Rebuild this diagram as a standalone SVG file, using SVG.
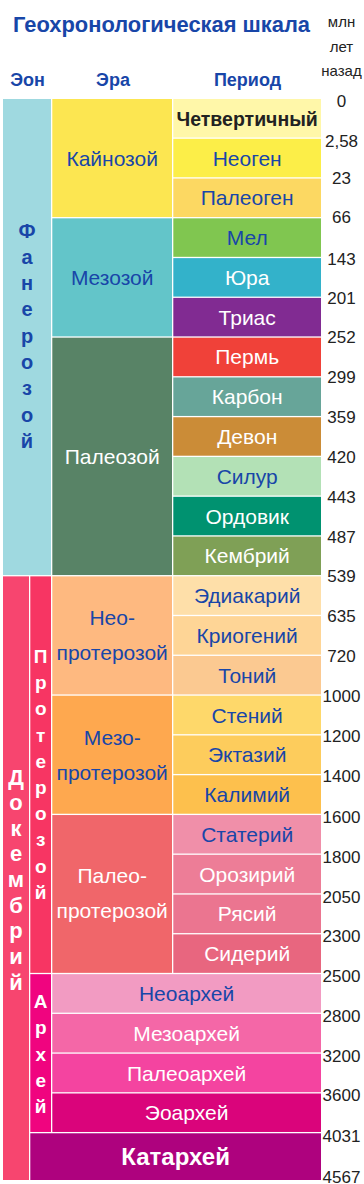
<svg xmlns="http://www.w3.org/2000/svg" width="364" height="1184" viewBox="0 0 364 1184">
<style>
text{font-family:"Liberation Sans",Arial,"Noto Sans",sans-serif;text-anchor:middle}
.c{font-size:21px}
.bl{fill:#1846a8}
.wh{fill:#ffffff}
.bd{font-weight:bold}
.num{font-size:17px;fill:#222222}
.hd{font-size:18px;font-weight:bold;fill:#1846a8}
.vp{font-size:20px;font-weight:bold;fill:#1846a8}
.vd{font-size:22px;font-weight:bold;fill:#ffffff}
.vs{font-size:19px;font-weight:bold;fill:#ffffff}
</style>
<rect x="0" y="0" width="364" height="1184" fill="#ffffff"/>
<g id="header">
<text x="161.5" y="32.3" font-size="22" font-weight="bold" fill="#1846a8" textLength="297" lengthAdjust="spacingAndGlyphs">Геохронологическая шкала</text>
<text class="hd" x="27.5" y="85.7">Эон</text>
<text class="hd" x="113" y="85.7">Эра</text>
<text class="hd" x="247.5" y="85.7">Период</text>
<text x="341.5" y="26.5" font-size="15" fill="#222222">млн</text>
<text x="341.5" y="51.5" font-size="15" fill="#222222">лет</text>
<text x="341.5" y="75.5" font-size="15" fill="#222222">назад</text>
</g>
<g id="eons">
<g id="eon-phanerozoic"><rect x="3" y="99" width="48" height="476.06" fill="#9fd9e0"/>
<text class="vp" x="27" y="237.5">Ф</text><text class="vp" x="27" y="263.8">а</text><text class="vp" x="27" y="290.1">н</text><text class="vp" x="27" y="316.4">е</text><text class="vp" x="27" y="342.7">р</text><text class="vp" x="27" y="369">о</text><text class="vp" x="27" y="395.3">з</text><text class="vp" x="27" y="421.6">о</text><text class="vp" x="27" y="447.9">й</text></g>
<g id="eon-precambrian"><rect x="3" y="576.36" width="26" height="603.64" fill="#f7456f"/>
<text class="vd" x="16" y="784.5">Д</text><text class="vd" x="16" y="810.15">о</text><text class="vd" x="16" y="835.8">к</text><text class="vd" x="16" y="861.45">е</text><text class="vd" x="16" y="887.1">м</text><text class="vd" x="16" y="912.75">б</text><text class="vd" x="16" y="938.4">р</text><text class="vd" x="16" y="964.05">и</text><text class="vd" x="16" y="989.7">й</text></g>
<g id="eon-proterozoic"><rect x="30.3" y="576.36" width="20.7" height="396.5" fill="#f73563"/>
<text class="vs" x="40.7" y="663">П</text><text class="vs" x="40.7" y="689.2">р</text><text class="vs" x="40.7" y="715.4">о</text><text class="vs" x="40.7" y="741.6">т</text><text class="vs" x="40.7" y="767.8">е</text><text class="vs" x="40.7" y="794">р</text><text class="vs" x="40.7" y="820.2">о</text><text class="vs" x="40.7" y="846.4">з</text><text class="vs" x="40.7" y="872.6">о</text><text class="vs" x="40.7" y="898.8">й</text></g>
<g id="eon-archean"><rect x="30.3" y="974.16" width="20.7" height="157.82" fill="#f0047f"/>
<text class="vs" x="40.7" y="1008">А</text><text class="vs" x="40.7" y="1034.25">р</text><text class="vs" x="40.7" y="1060.5">х</text><text class="vs" x="40.7" y="1086.75">е</text><text class="vs" x="40.7" y="1113">й</text></g>
<g id="eon-katarchean"><rect x="30.3" y="1133.28" width="290.7" height="46.72" fill="#ae027e"/>
<text x="175.6" y="1165" font-size="24" font-weight="bold" fill="#ffffff">Катархей</text></g>
</g>
<g id="eras">
<g id="era-cenozoic"><rect x="52.3" y="99" width="119.7" height="118.04" fill="#fce651"/><text class="c bl" x="112.2" y="166">Кайнозой</text></g>
<g id="era-mesozoic"><rect x="52.3" y="218.34" width="119.7" height="118.04" fill="#63c5c9"/><text class="c bl" x="112.2" y="285">Мезозой</text></g>
<g id="era-paleozoic"><rect x="52.3" y="337.68" width="119.7" height="237.38" fill="#588366"/><text class="c wh" x="112.2" y="464">Палеозой</text></g>
<g id="era-neoproterozoic"><rect x="52.3" y="576.36" width="119.7" height="118.04" fill="#feb980"/><text class="c bl" x="112.2" y="625">Нео-</text><text class="c bl" x="112.2" y="660">протерозой</text></g>
<g id="era-mesoproterozoic"><rect x="52.3" y="695.7" width="119.7" height="118.04" fill="#fea84f"/><text class="c bl" x="112.2" y="744.5">Мезо-</text><text class="c bl" x="112.2" y="779.5">протерозой</text></g>
<g id="era-paleoproterozoic"><rect x="52.3" y="815.04" width="119.7" height="157.82" fill="#f0666a"/><text class="c wh" x="112.2" y="883">Палео-</text><text class="c wh" x="112.2" y="918">протерозой</text></g>
<g id="era-neoarchean"><rect x="52.3" y="974.16" width="268.7" height="38.48" fill="#f29bc2"/><text class="c bl" x="186.6" y="1000.96">Неоархей</text></g>
<g id="era-mesoarchean"><rect x="52.3" y="1013.94" width="268.7" height="38.48" fill="#f467a7"/><text class="c wh" x="186.6" y="1040.74">Мезоархей</text></g>
<g id="era-paleoarchean"><rect x="52.3" y="1053.72" width="268.7" height="38.48" fill="#f444a0"/><text class="c wh" x="186.6" y="1080.52">Палеоархей</text></g>
<g id="era-eoarchean"><rect x="52.3" y="1093.5" width="268.7" height="38.48" fill="#da047b"/><text class="c wh" x="186.6" y="1120.3">Эоархей</text></g>
</g>
<g id="periods">
<g id="p-quaternary"><rect x="173.3" y="99" width="147.7" height="38.48" fill="#fff7a9"/><text x="247.2" y="125.8" font-size="19.5" font-weight="bold" fill="#222222">Четвертичный</text></g>
<g id="p-neogene"><rect x="173.3" y="138.78" width="147.7" height="38.48" fill="#fcee48"/><text class="c bl" x="247.2" y="165.58">Неоген</text></g>
<g id="p-paleogene"><rect x="173.3" y="178.56" width="147.7" height="38.48" fill="#fcd862"/><text class="c bl" x="247.2" y="205.36">Палеоген</text></g>
<g id="p-cretaceous"><rect x="173.3" y="218.34" width="147.7" height="38.48" fill="#80c650"/><text class="c bl" x="247.2" y="245.14">Мел</text></g>
<g id="p-jurassic"><rect x="173.3" y="258.12" width="147.7" height="38.48" fill="#33b2ca"/><text class="c wh" x="247.2" y="284.92">Юра</text></g>
<g id="p-triassic"><rect x="173.3" y="297.9" width="147.7" height="38.48" fill="#812b92"/><text class="c wh" x="247.2" y="324.7">Триас</text></g>
<g id="p-permian"><rect x="173.3" y="337.68" width="147.7" height="38.48" fill="#f04139"/><text class="c wh" x="247.2" y="364.48">Пермь</text></g>
<g id="p-carboniferous"><rect x="173.3" y="377.46" width="147.7" height="38.48" fill="#67a599"/><text class="c wh" x="247.2" y="404.26">Карбон</text></g>
<g id="p-devonian"><rect x="173.3" y="417.24" width="147.7" height="38.48" fill="#cb8c37"/><text class="c wh" x="247.2" y="444.04">Девон</text></g>
<g id="p-silurian"><rect x="173.3" y="457.02" width="147.7" height="38.48" fill="#b3e1b6"/><text class="c bl" x="247.2" y="483.82">Силур</text></g>
<g id="p-ordovician"><rect x="173.3" y="496.8" width="147.7" height="38.48" fill="#009270"/><text class="c wh" x="247.2" y="523.6">Ордовик</text></g>
<g id="p-cambrian"><rect x="173.3" y="536.58" width="147.7" height="38.48" fill="#7fa056"/><text class="c wh" x="247.2" y="563.38">Кембрий</text></g>
<g id="p-ediacaran"><rect x="173.3" y="576.36" width="147.7" height="38.48" fill="#fedfa9"/><text class="c bl" x="247.2" y="603.16">Эдиакарий</text></g>
<g id="p-cryogenian"><rect x="173.3" y="616.14" width="147.7" height="38.48" fill="#fed596"/><text class="c bl" x="247.2" y="642.94">Криогений</text></g>
<g id="p-tonian"><rect x="173.3" y="655.92" width="147.7" height="38.48" fill="#fbc991"/><text class="c bl" x="247.2" y="682.72">Тоний</text></g>
<g id="p-stenian"><rect x="173.3" y="695.7" width="147.7" height="38.48" fill="#fed86a"/><text class="c bl" x="247.2" y="722.5">Стений</text></g>
<g id="p-ectasian"><rect x="173.3" y="735.48" width="147.7" height="38.48" fill="#fdcc5c"/><text class="c bl" x="247.2" y="762.28">Эктазий</text></g>
<g id="p-calymmian"><rect x="173.3" y="775.26" width="147.7" height="38.48" fill="#fdc04d"/><text class="c bl" x="247.2" y="802.06">Калимий</text></g>
<g id="p-statherian"><rect x="173.3" y="815.04" width="147.7" height="38.48" fill="#f08fa9"/><text class="c bl" x="247.2" y="841.84">Статерий</text></g>
<g id="p-orosirian"><rect x="173.3" y="854.82" width="147.7" height="38.48" fill="#ed7d97"/><text class="c wh" x="247.2" y="881.62">Орозирий</text></g>
<g id="p-rhyacian"><rect x="173.3" y="894.6" width="147.7" height="38.48" fill="#eb7590"/><text class="c wh" x="247.2" y="921.4">Рясий</text></g>
<g id="p-siderian"><rect x="173.3" y="934.38" width="147.7" height="38.48" fill="#e8667f"/><text class="c wh" x="247.2" y="961.18">Сидерий</text></g>
</g>
<g id="ages">
<text class="num" x="341.5" y="107">0</text>
<text class="num" x="341.5" y="147.3">2,58</text>
<text class="num" x="341.5" y="184.4">23</text>
<text class="num" x="341.5" y="223.2">66</text>
<text class="num" x="341.5" y="264.5">143</text>
<text class="num" x="341.5" y="304">201</text>
<text class="num" x="341.5" y="343.4">252</text>
<text class="num" x="341.5" y="383.3">299</text>
<text class="num" x="341.5" y="423.2">359</text>
<text class="num" x="341.5" y="463">420</text>
<text class="num" x="341.5" y="502.8">443</text>
<text class="num" x="341.5" y="542.6">487</text>
<text class="num" x="341.5" y="582.2">539</text>
<text class="num" x="341.5" y="622.3">635</text>
<text class="num" x="341.5" y="662.2">720</text>
<text class="num" x="341.5" y="701.7">1000</text>
<text class="num" x="341.5" y="742">1200</text>
<text class="num" x="341.5" y="782">1400</text>
<text class="num" x="341.5" y="823.3">1600</text>
<text class="num" x="341.5" y="862.5">1800</text>
<text class="num" x="341.5" y="902.5">2050</text>
<text class="num" x="341.5" y="942.2">2300</text>
<text class="num" x="341.5" y="981.7">2500</text>
<text class="num" x="341.5" y="1021.7">2800</text>
<text class="num" x="341.5" y="1061.5">3200</text>
<text class="num" x="341.5" y="1101.3">3600</text>
<text class="num" x="341.5" y="1141.5">4031</text>
<text class="num" x="341.5" y="1182.5">4567</text>
</g>
</svg>
